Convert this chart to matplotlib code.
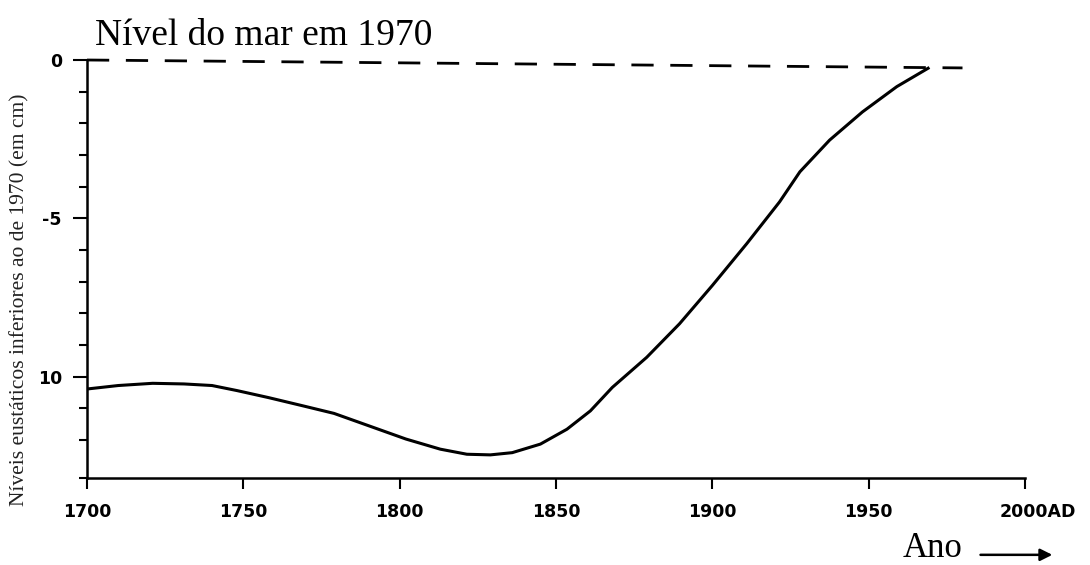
import matplotlib.pyplot as plt
from matplotlib.ticker import FixedLocator
import matplotlib.transforms as mtransforms

# Valores (ano, nível em cm em relação a 1970)
anos = [1700, 1710, 1721, 1731, 1740, 1748, 1758, 1769, 1779, 1791.5, 1802,
        1813, 1821.5, 1829, 1836, 1845, 1853.5, 1861, 1868, 1879, 1889.5,
        1900, 1911, 1921.5, 1928, 1937.5, 1948, 1959, 1969]
nivel = [-10.39, -10.28, -10.21, -10.23, -10.28, -10.44, -10.66, -10.92,
         -11.16, -11.60, -11.97, -12.29, -12.45, -12.47, -12.40, -12.13,
         -11.66, -11.08, -10.34, -9.39, -8.33, -7.12, -5.80, -4.48, -3.53,
         -2.53, -1.64, -0.84, -0.26]

# Linha de referência (nível de 1970)
ref_anos = [1700, 1980]
ref_nivel = [0, -0.25]

x_ticks = [1700, 1750, 1800, 1850, 1900, 1950, 2000]
x_labels = ['1700', '1750', '1800', '1850', '1900', '1950', '2000AD']
y_ticks = [0, -5, -10]
y_labels = ['0', '-5', '10']
y_minor = [-1, -2, -3, -4, -6, -7, -8, -9, -11, -12, -13.2]

fig = plt.figure(figsize=(10.9, 5.65), dpi=100)
ax = fig.add_axes([0.0798, 0.154, 0.8606, 0.7398])

ax.plot(anos, nivel, color='black', lw=2.2, solid_joinstyle='round')
ax.plot(ref_anos, ref_nivel, color='black', lw=2, dashes=(8, 6), clip_on=False)

ax.set_xlim(1700, 2000)
ax.set_ylim(-13.2, 0)

for s in ['top', 'right']:
    ax.spines[s].set_visible(False)
for s in ['left', 'bottom']:
    ax.spines[s].set_linewidth(1.8)

ax.set_xticks(x_ticks)
ax.set_xticklabels(x_labels, fontsize=12.5, fontweight='bold')
ax.set_yticks(y_ticks)
ax.set_yticklabels(y_labels, fontsize=12.5, fontweight='bold')
ax.yaxis.set_minor_locator(FixedLocator(y_minor))
ax.tick_params(axis='x', direction='out', length=8, width=1.5, pad=10)
ax.tick_params(axis='y', which='major', direction='out', length=10, width=1.5, pad=8)
ax.tick_params(axis='y', which='minor', direction='out', length=6, width=1.5)

# "2000AD": o "2000" fica centrado no tick
lab = ax.get_xticklabels()[-1]
lab.set_horizontalalignment('left')
lab.set_transform(lab.get_transform() + mtransforms.ScaledTranslation(-0.25, 0, fig.dpi_scale_trans))

fig.text(0.087, 0.92, 'Nível do mar em 1970', fontsize=27, family='Liberation Serif',
         ha='left', va='baseline')
fig.text(0.018, 0.47, 'Níveis eustáticos inferiores ao de 1970 (em cm)', fontsize=15.5,
         family='Liberation Serif', rotation=90, ha='center', va='center', color='#222222')

fig.text(0.828, 0.014, 'Ano', fontsize=25, family='Liberation Serif', ha='left', va='baseline')
ax.annotate('', xy=(0.968, 0.018), xytext=(0.897, 0.018), xycoords='figure fraction',
            arrowprops=dict(arrowstyle='-|>', color='black', lw=1.8, mutation_scale=18))

fig.savefig('out.png', dpi=100)
